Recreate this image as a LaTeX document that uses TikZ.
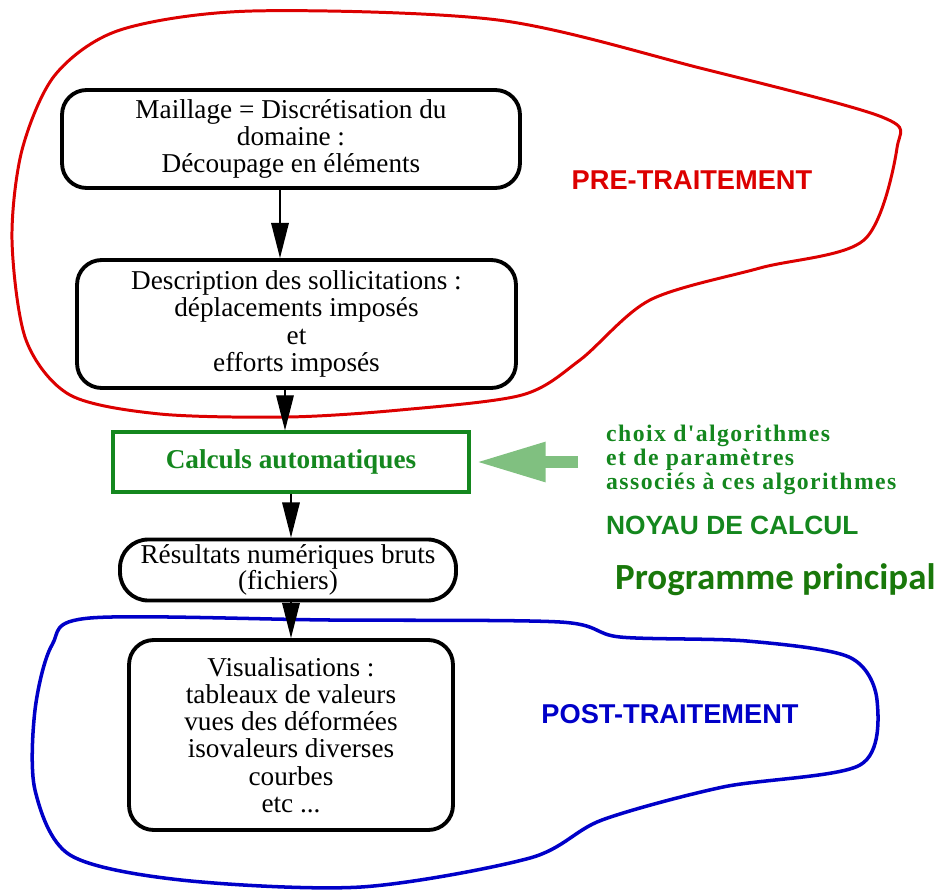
\documentclass[tikz,border=0pt]{standalone}
\usepackage{fontspec}
\setmainfont{Liberation Serif}
\setsansfont{Liberation Sans}
\newfontfamily\calibrifont{Carlito}
\newfontfamily\spacedserif[LetterSpace=6]{Liberation Serif}
\usetikzlibrary{arrows.meta}

\definecolor{preRed}{RGB}{220,0,0}
\definecolor{postBlue}{RGB}{0,0,200}
\definecolor{calcGreen}{RGB}{20,135,30}
\definecolor{paleGreen}{RGB}{128,192,128}
\definecolor{progGreen}{RGB}{25,120,10}

\begin{document}
\begin{tikzpicture}[x=0.02cm, y=-0.02cm,
    stage/.style={draw, line width=2.2pt, rounded corners=14pt, align=center,
        inner sep=0pt, font=\fontsize{15.5}{15.5}\selectfont},
    flow/.style={-{Triangle[length=20pt,width=10pt]}, line width=0.8pt},
    feed/.style={-{Triangle[length=40pt,width=21pt]}, line width=7pt, paleGreen},
    phase/.style={font=\sffamily\bfseries\fontsize{15.5}{18}\selectfont}]
    \useasboundingbox (0,0) rectangle (941,890);

    % Pre-processing region
    \draw[preRed, line width=1.7pt] plot[smooth cycle, tension=0.5] coordinates {
        (252,11) (498,20) (700,68) (882,117) (897,148) (864,240)
        (760,268) (650,300) (580,360) (522,395) (400,410) (288,417) (160,414)
        (70,395) (26,340) (12,240) (22,150) (55,75) (120,30)};
    \node[phase, preRed] (pre) at (692,180) {PRE-TRAITEMENT};

    % Post-processing region
    \draw[postBlue, line width=2pt] plot[smooth cycle, tension=0.5] coordinates {
        (90,618) (330,620) (560,622) (620,637) (747,641) (849,657) (877,700)
        (860,765) (723,787) (602,820) (530,858) (361,887) (181,880) (70,855)
        (35,790) (35,710) (52,645)};
    \node[phase, postBlue] (post) at (670,714) {POST-TRAITEMENT};

    % Chain of stages
    \node[stage, minimum width=9.16cm, minimum height=1.96cm] (mesh) at (291,139)
        {Maillage = Discrétisation du\\domaine :\\Découpage en éléments};
    \node[stage, minimum width=8.78cm, minimum height=2.56cm] (loads) at (296.5,324)
        {Description des sollicitations :\\déplacements imposés\\et\\efforts imposés};
    \node[draw=calcGreen, line width=1.8pt, minimum width=7.12cm, minimum height=1.2cm,
        text=calcGreen, font=\bfseries\fontsize{15.5}{15}\selectfont] (calc) at (291,462)
        {Calculs automatiques};
    \node[stage, rounded corners=16pt, minimum width=6.72cm, minimum height=1.22cm,
        font=\fontsize{15.5}{13}\selectfont] (raw) at (288,570)
        {Résultats numériques bruts\\(fichiers)};
    \node[stage, minimum width=6.48cm, minimum height=3.8cm] (views) at (291,735)
        {Visualisations :\\tableaux de valeurs\\vues des déformées\\isovaleurs diverses\\courbes\\etc ...};

    \draw[flow] ([xshift=-0.22cm]mesh.south) -- ([xshift=-0.22cm]mesh.south |- loads.north);
    \draw[flow] ([xshift=-0.23cm]loads.south) -- ([xshift=-0.23cm]loads.south |- calc.north);
    \draw[flow] (calc.south) -- (calc.south |- raw.north);
    \draw[flow] (views.north |- raw.south) -- (views.north);

    % Solver inputs
    \node[anchor=west, align=left, text=calcGreen,
        font=\spacedserif\bfseries\fontsize{13.5}{13.6}\selectfont] (algo) at (600,460)
        {choix d'algorithmes\\et de paramètres\\associés à ces algorithmes};
    \coordinate (algotail) at (578,462);
    \draw[feed, shorten >=2.8pt] (algotail) -- (calc.east);
    \node[anchor=west, text=calcGreen, font=\sffamily\bfseries\fontsize{15}{18}\selectfont]
        (kernel) at (600,525) {NOYAU DE CALCUL};
    \node[anchor=west, text=progGreen, font=\calibrifont\bfseries\fontsize{21}{24}\selectfont]
        (prog) at (609,580) {Programme principal};
\end{tikzpicture}
\end{document}
